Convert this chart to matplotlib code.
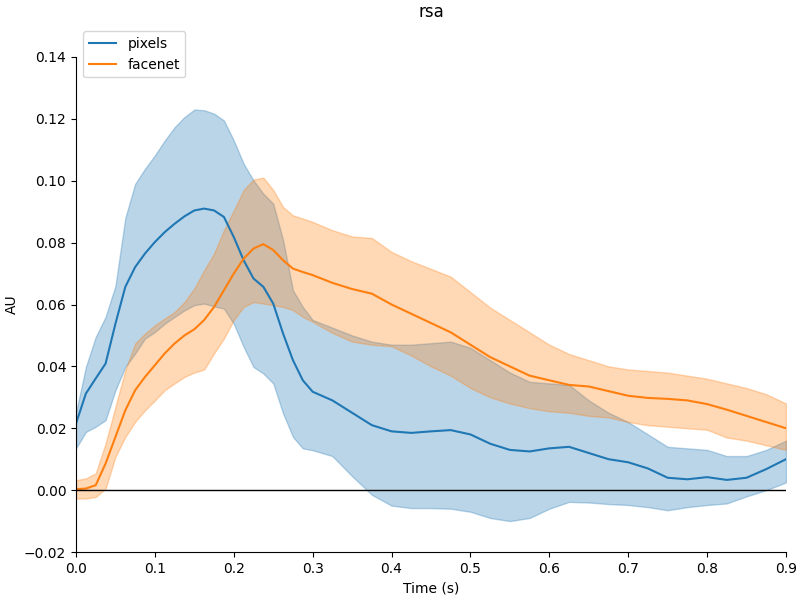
import numpy as np
import matplotlib
matplotlib.use('Agg')
import matplotlib.pyplot as plt

# time axis (s): finer steps over the fast early part
times = np.r_[np.arange(25) * 0.0125, 0.3 + np.arange(1, 25) * 0.025]

# pixels: mean and confidence band
pixels_mean = [0.0215, 0.0312, 0.0361, 0.0409, 0.0538,
               0.0657, 0.0721, 0.0765, 0.0802, 0.0834,
               0.0861, 0.0885, 0.0904, 0.091, 0.0904,
               0.0883, 0.0818, 0.0743, 0.0684, 0.0657,
               0.0603, 0.0506, 0.042, 0.0355, 0.0318,
               0.029, 0.025, 0.021, 0.019, 0.0185, 0.019, 0.0194, 0.018,
               0.015, 0.013, 0.0125, 0.0135, 0.014, 0.012, 0.010, 0.009,
               0.007, 0.004, 0.0035, 0.0042, 0.0033, 0.004, 0.0068, 0.010]
pixels_upper = [0.025, 0.0398, 0.0495, 0.056, 0.066,
                0.088, 0.099, 0.1039, 0.1082, 0.113,
                0.1173, 0.1206, 0.123, 0.1228, 0.1217,
                0.1195, 0.113, 0.1055, 0.1001, 0.0958,
                0.0926, 0.0808, 0.0646, 0.0592, 0.055,
                0.0525, 0.050, 0.048, 0.047, 0.047, 0.0475, 0.048, 0.046,
                0.042, 0.038, 0.035, 0.0345, 0.034, 0.029, 0.025, 0.022,
                0.018, 0.014, 0.0135, 0.013, 0.011, 0.011, 0.013, 0.016]
pixels_lower = [0.0135, 0.0188, 0.0205, 0.0226, 0.0323,
                0.0398, 0.0442, 0.049, 0.0511, 0.0538,
                0.056, 0.0581, 0.0598, 0.0603, 0.0594,
                0.0587, 0.0538, 0.0463, 0.0398, 0.0377,
                0.0345, 0.0248, 0.0172, 0.0135, 0.0129,
                0.011, 0.0045, -0.0015, -0.005, -0.0058, -0.0058, -0.006, -0.007,
                -0.009, -0.010, -0.009, -0.006, -0.0038, -0.004, -0.0045, -0.0048,
                -0.0055, -0.0065, -0.0055, -0.0048, -0.0043, -0.002, 0.0, 0.0025]

# facenet: mean and confidence band
facenet_mean = [0.0003, 0.0005, 0.0016, 0.0086, 0.0172,
                0.0258, 0.0323, 0.0366, 0.0404, 0.0442,
                0.0474, 0.05, 0.052, 0.055, 0.0592,
                0.0646, 0.07, 0.0748, 0.0781, 0.0795,
                0.0776, 0.0743, 0.0716, 0.0705, 0.0695,
                0.067, 0.065, 0.0635, 0.060, 0.057, 0.054, 0.051, 0.047,
                0.043, 0.040, 0.037, 0.0355, 0.034, 0.0335, 0.032, 0.0305,
                0.0298, 0.0295, 0.029, 0.0278, 0.026, 0.024, 0.022, 0.020]
facenet_upper = [0.0032, 0.0038, 0.0054, 0.0151, 0.0269,
                 0.0388, 0.0474, 0.0506, 0.0533, 0.0555,
                 0.0576, 0.0608, 0.0652, 0.0711, 0.0765,
                 0.084, 0.0904, 0.097, 0.1004, 0.101,
                 0.097, 0.0915, 0.0888, 0.0878, 0.0867,
                 0.084, 0.082, 0.0815, 0.077, 0.074, 0.0715, 0.069, 0.064,
                 0.059, 0.055, 0.051, 0.047, 0.044, 0.042, 0.040, 0.039,
                 0.0385, 0.038, 0.037, 0.036, 0.0345, 0.033, 0.031, 0.028]
facenet_lower = [-0.0027, -0.0027, -0.0022, 0.0005, 0.0108,
                 0.0172, 0.0221, 0.0258, 0.029, 0.0323,
                 0.0345, 0.0366, 0.038, 0.039, 0.0442,
                 0.049, 0.055, 0.0592, 0.0608, 0.0603,
                 0.0598, 0.0592, 0.0582, 0.056, 0.0544,
                 0.0508, 0.048, 0.047, 0.0465, 0.0435, 0.040, 0.037, 0.033,
                 0.030, 0.028, 0.0265, 0.0255, 0.025, 0.024, 0.0235, 0.022,
                 0.021, 0.0205, 0.020, 0.0195, 0.017, 0.016, 0.0145, 0.013]

fig = plt.figure(figsize=(8, 6), dpi=100)
ax = fig.add_axes([0.095, 0.08, 0.8875, 0.825])

ax.plot(times, pixels_mean, color='C0', lw=1.5, label='pixels')
ax.fill_between(times, pixels_lower, pixels_upper, color='C0', alpha=0.3)
ax.plot(times, facenet_mean, color='C1', lw=1.5, label='facenet')
ax.fill_between(times, facenet_lower, facenet_upper, color='C1', alpha=0.3)

ax.axhline(0, color='black', lw=1)

ax.set_xlim(0, 0.9)
ax.set_ylim(-0.02, 0.14)
ax.set_xlabel('Time (s)')
ax.set_ylabel('AU')
ax.set_title('rsa', pad=29)
ax.spines['top'].set_visible(False)
ax.spines['right'].set_visible(False)
ax.legend(loc='upper left', bbox_to_anchor=(0, 1.066))

fig.savefig('out.png', dpi=100)
